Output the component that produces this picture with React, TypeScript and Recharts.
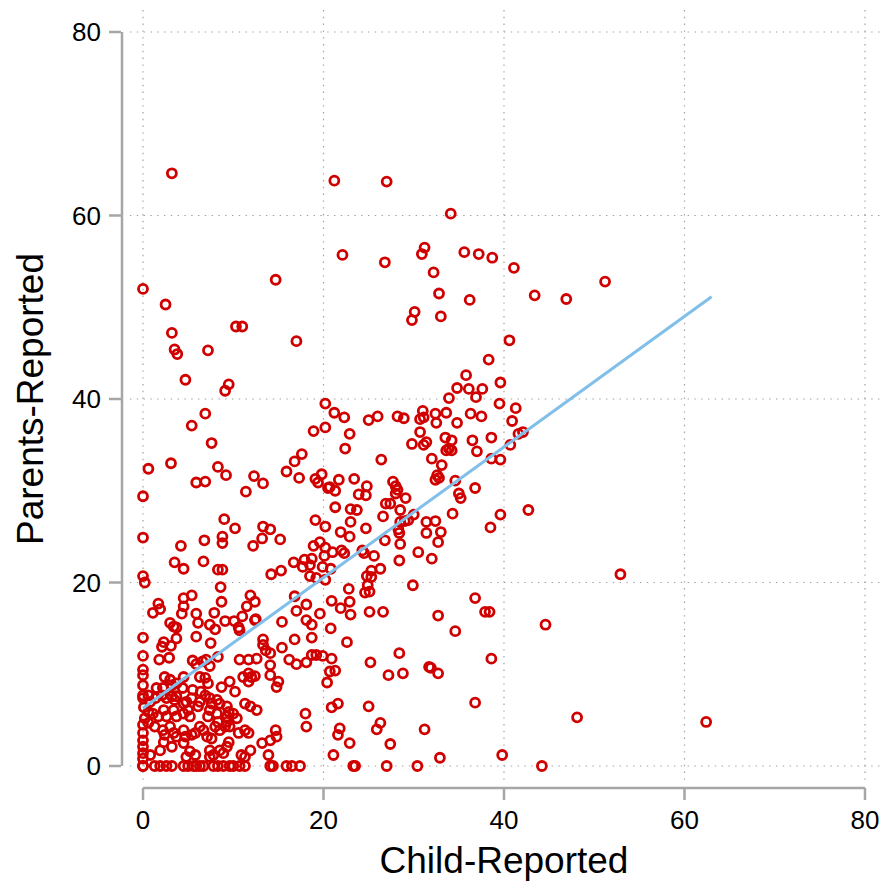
import React from "react";
import { ScatterChart, Scatter, XAxis, YAxis, CartesianGrid } from "recharts";

// [child-reported, parents-reported]
const upperCloud: [number, number][] = [
  [3.2, 64.6], [21.2, 63.8], [27.0, 63.7], [34.1, 60.2], [0, 52.0], [2.5, 50.3],
  [14.7, 53.0], [22.1, 55.7], [26.8, 54.9], [31.2, 56.5], [30.9, 55.8], [32.2, 53.8],
  [32.8, 51.5], [35.6, 56.0], [37.2, 55.8], [38.7, 55.4], [36.2, 50.8], [41.1, 54.3],
  [43.4, 51.3], [46.9, 50.9], [51.2, 52.8], [30.1, 49.5], [29.8, 48.6], [33.0, 49.0],
  [10.3, 47.9], [11.0, 47.9], [3.2, 47.2], [3.5, 45.4], [3.8, 44.9], [7.2, 45.3],
  [17.0, 46.3], [4.7, 42.1], [9.5, 41.6], [9.1, 40.9], [6.9, 38.4], [5.4, 37.1],
  [7.6, 35.2], [3.1, 33.0], [0.6, 32.4], [8.3, 32.6], [9.2, 31.7], [5.9, 30.9],
  [6.9, 31.0], [12.3, 31.6], [13.3, 30.8], [11.4, 29.9], [0, 29.4], [15.9, 32.1],
  [16.8, 33.2], [17.6, 34.0], [17.3, 31.4], [18.9, 36.5], [20.2, 36.9], [20.2, 39.5],
  [19.1, 31.3], [19.8, 31.8], [19.4, 30.9], [20.5, 30.3],
];

const rightCloud: [number, number][] = [
  [38.3, 44.3], [35.8, 42.6], [39.6, 41.8], [34.8, 41.2], [36.1, 41.1], [37.6, 41.1],
  [40.6, 46.4], [39.5, 39.5], [41.3, 39.0], [40.9, 37.6], [38.6, 35.8], [41.6, 36.2],
  [42.1, 36.4], [40.7, 35.0], [38.6, 33.5], [39.6, 33.4], [39.6, 27.4], [42.7, 27.9],
  [38.5, 26.0], [52.9, 20.9], [38.4, 16.8], [44.6, 15.4], [38.6, 11.7], [48.1, 5.3],
  [62.4, 4.8], [39.8, 1.2], [44.2, 0], [36.9, 40.2], [33.9, 40.1], [21.2, 38.5],
  [22.3, 38.0], [25.0, 37.7], [26.0, 38.1], [28.2, 38.1], [28.9, 37.9], [31.0, 38.7],
  [32.4, 38.4], [33.6, 38.5], [30.7, 37.8], [31.1, 38.0], [32.5, 37.4], [34.8, 37.4],
  [36.3, 38.4], [37.5, 38.1], [22.9, 36.2], [22.4, 34.6], [26.4, 33.4], [29.8, 35.1],
  [30.7, 36.4], [31.1, 35.0], [31.4, 35.3], [33.5, 35.8], [34.2, 35.5], [33.6, 34.4],
  [33.9, 34.6], [34.2, 34.4], [36.5, 35.5], [37.0, 34.3], [32.0, 33.5], [33.1, 32.8],
  [32.4, 31.2], [32.6, 31.7], [32.8, 31.4], [34.6, 31.1], [35.0, 29.7], [35.2, 29.2],
  [36.8, 30.3], [34.3, 27.5], [21.7, 31.2], [20.7, 30.4], [21.3, 30.0], [23.4, 31.3],
  [24.8, 30.5], [23.9, 29.6], [24.7, 29.5], [27.7, 31.0], [28.0, 30.5], [28.2, 30.1],
  [28.0, 29.7], [29.1, 29.2], [26.9, 28.6], [27.4, 28.6], [21.3, 28.2], [23.0, 28.0],
  [23.7, 27.9], [28.5, 27.9], [26.6, 27.2], [30.0, 27.4], [28.5, 26.6], [29.0, 26.7],
  [29.4, 26.8], [23.0, 26.6], [24.7, 25.9], [28.3, 25.8], [31.4, 26.6], [32.4, 26.7],
  [21.9, 25.5], [22.9, 25.0], [28.4, 25.4], [31.4, 25.4], [33.0, 25.5], [32.7, 24.4],
  [26.8, 24.6], [28.5, 24.2], [21.0, 23.3], [22.0, 23.5], [22.3, 23.2], [24.3, 23.5],
  [24.5, 23.2], [25.6, 22.9], [30.5, 23.3], [28.4, 22.4], [32.0, 22.6], [20.8, 21.5],
  [25.3, 21.3], [26.3, 21.5], [24.8, 20.7], [25.3, 20.6],
];

const lowerMiddle: [number, number][] = [
  [9.0, 26.9], [10.2, 25.9], [13.3, 26.1], [14.1, 25.8], [0, 24.9], [4.2, 24.0],
  [6.8, 24.6], [8.8, 25.0], [8.8, 24.3], [12.2, 24.0], [13.2, 24.8], [15.2, 24.7],
  [19.1, 26.8], [20.2, 26.1], [3.5, 22.2], [4.5, 21.5], [6.7, 22.3], [8.3, 21.4],
  [8.8, 21.4], [0, 20.7], [14.2, 20.9], [15.3, 21.3], [16.7, 22.2], [17.9, 22.5],
  [18.7, 22.6], [19.6, 24.4], [18.9, 24.0], [20.2, 23.8], [20.1, 22.9], [17.7, 21.7],
  [18.5, 21.9], [19.9, 21.7], [20.2, 20.3], [22.8, 19.3], [24.9, 19.7], [24.6, 18.9],
  [25.1, 19.0], [29.9, 19.7], [36.8, 18.3], [37.9, 16.8], [32.7, 16.4], [34.6, 14.7],
  [20.9, 18.0], [21.9, 17.2], [22.9, 17.9], [23.0, 16.5], [19.6, 16.6], [25.1, 16.8],
  [26.6, 16.8], [20.8, 15.0], [22.6, 13.5], [28.4, 12.3], [19.9, 12.0], [20.9, 11.7],
  [25.2, 11.3], [20.7, 10.3], [21.3, 10.4], [20.4, 9.1], [27.2, 9.9], [28.8, 10.1],
  [31.7, 10.8], [31.9, 10.7], [32.7, 10.1], [36.8, 6.9], [21.6, 6.8], [20.9, 6.4],
  [25.0, 6.5], [21.8, 4.1], [21.6, 3.4], [26.3, 4.7], [25.9, 4.0], [31.2, 4.0],
  [22.9, 2.5], [27.4, 2.4], [21.1, 1.2], [32.9, 0.9], [23.3, 0], [23.5, 0],
  [27.0, 0], [30.4, 0],
];

const lowerLeft: [number, number][] = [
  [0.2, 20.0], [8.6, 19.5], [18.5, 20.7], [19.2, 20.5], [5.4, 18.6], [4.5, 18.3],
  [4.5, 17.4], [4.3, 16.6], [1.7, 17.7], [1.9, 17.1], [1.1, 16.7], [11.9, 18.6],
  [11.5, 17.4], [12.4, 17.9], [8.7, 17.9], [11.0, 16.3], [12.5, 16.0], [5.9, 16.6],
  [6.1, 15.6], [7.9, 16.7], [16.8, 18.5], [18.1, 17.6], [17.0, 16.9], [15.4, 15.7],
  [18.1, 15.9], [18.7, 15.4], [9.1, 15.8], [10.1, 15.8], [10.6, 15.1], [10.7, 14.8],
  [7.4, 15.4], [8.0, 14.9], [3.0, 15.6], [3.4, 15.2], [3.7, 15.1], [12.4, 15.9],
  [0, 14.0], [3.7, 13.9], [5.9, 14.1], [2.3, 13.5], [2.1, 13.0], [3.1, 13.1],
  [7.5, 13.4], [13.3, 13.8], [13.3, 13.2], [13.6, 12.6], [14.1, 12.3], [15.4, 12.9],
  [18.7, 14.0], [16.8, 13.8], [18.7, 12.1], [19.2, 12.1], [0, 12.0], [2.9, 11.8],
  [1.8, 11.6], [8.3, 11.9], [10.7, 11.6], [11.7, 11.6], [12.6, 11.7], [5.5, 11.5],
  [5.9, 11.1], [6.6, 11.4], [7.0, 11.6], [7.4, 10.9], [16.2, 11.6], [17.0, 11.1],
  [18.1, 11.3], [14.1, 11.0], [14.1, 9.9], [0, 10.5], [0, 9.9], [0, 8.8],
  [2.4, 9.7], [3.0, 9.4], [4.5, 9.7], [6.3, 9.7], [6.9, 9.6], [8.7, 8.6],
  [9.6, 9.2], [7.2, 9.0], [11.1, 9.7], [11.7, 10.1], [12.0, 9.7], [12.4, 9.8],
  [11.7, 9.2], [15.0, 9.2], [14.8, 8.6], [1.5, 8.5], [2.2, 8.5], [3.2, 8.8],
  [3.7, 9.0], [4.4, 8.5], [5.5, 8.3], [6.4, 8.1], [6.9, 7.7], [10.2, 8.1],
  [0.1, 6.4], [0.6, 5.9], [1.1, 5.7], [1.7, 5.4], [0, 7.7], [0, 7.4],
  [0.6, 7.7], [0.8, 7.0], [1.4, 7.4], [2.1, 7.7], [2.6, 7.4], [3.2, 7.6],
  [3.5, 7.2], [3.7, 7.6], [4.5, 6.8], [4.8, 7.0], [5.4, 7.4], [6.1, 6.5],
  [6.3, 7.0], [7.4, 7.4], [7.6, 6.8], [8.2, 7.2], [8.5, 6.8], [7.4, 6.1],
  [7.2, 5.4], [8.2, 5.7], [9.3, 6.5], [9.5, 5.9], [9.3, 5.4], [10.0, 5.7],
  [10.4, 5.2], [11.3, 6.8], [11.9, 6.5], [12.6, 6.1], [2.3, 6.1], [2.6, 5.4],
  [3.4, 6.1], [3.7, 5.4], [4.5, 5.7], [5.0, 6.1], [5.2, 5.4], [1.3, 4.3],
  [2.2, 3.9], [2.4, 3.4], [3.0, 4.3], [3.4, 3.6], [3.7, 3.2], [4.5, 3.9],
  [4.7, 3.2], [5.4, 3.4], [5.8, 3.6], [0, 4.5], [0, 3.6], [0, 2.8],
  [0, 2.1], [0, 1.4], [0, 0.8], [0.2, 5.2], [0.6, 4.7], [6.3, 4.3],
  [6.7, 3.9], [7.1, 3.2], [7.6, 3.0], [8.0, 4.3], [8.3, 4.8], [8.5, 3.9],
  [9.1, 4.3], [9.3, 4.8], [9.6, 4.3], [10.6, 3.6], [11.3, 3.9], [11.7, 3.6],
  [9.5, 2.6], [9.3, 2.1], [8.5, 1.7], [8.9, 1.4], [7.4, 1.7], [7.8, 1.2],
  [7.4, 1.0], [2.3, 2.6], [3.2, 2.1], [4.5, 2.5], [5.2, 1.6], [4.8, 1.0],
  [5.8, 1.2], [1.9, 1.7], [0.8, 1.2], [11.9, 1.7], [13.2, 2.5], [14.1, 2.8],
  [14.7, 3.9], [14.8, 3.2], [13.9, 1.2], [18.0, 5.7], [18.1, 4.3], [10.9, 1.2],
  [11.3, 1.0],
];

// child-reported values of the points whose parents-reported value is 0
const zeroParentChild = [
  0, 0, 1.3, 1.9, 2.6, 3.2, 4.5, 5.0, 5.6, 5.9, 6.3, 6.7, 7.8, 8.3, 8.9, 9.6,
  10.0, 10.7, 11.3, 14.1, 14.4, 15.9, 16.5, 17.4,
];

// fitted line end points
const fitChild = [0, 63];
const fitParents = [6.3, 51.15];

const axisTicks = [0, 20, 40, 60, 80];

const points = [
  ...upperCloud,
  ...rightCloud,
  ...lowerMiddle,
  ...lowerLeft,
  ...zeroParentChild.map((x) => [x, 0] as [number, number]),
].map(([x, y]) => ({ x, y }));

const fitLine = fitChild.map((x, i) => ({ x, y: fitParents[i] }));

const RED = "#d00000";
const BLUE = "#80bfe9";
const AXIS_GREY = "#a6a6a6";
const FONT = "'Liberation Sans', Arial, Helvetica, sans-serif";
const TICK_FONT = 26;
const AXIS_GAP = 22; // stata-style axes sit a little away from the plot
const TICK_LEN = 12;

const Ring = (props: any) => (
  <circle
    cx={props.cx}
    cy={props.cy}
    r={4.5}
    fill="none"
    stroke={RED}
    strokeWidth={2.8}
  />
);

const NoMark = () => <g />;

const XTick = ({ x, y, payload }: any) => (
  <g>
    <line
      x1={x}
      x2={x}
      y1={y + AXIS_GAP}
      y2={y + AXIS_GAP + TICK_LEN}
      stroke={AXIS_GREY}
      strokeWidth={2.5}
    />
    <text x={x} y={y + 63} textAnchor="middle" fontSize={TICK_FONT} fill="#000">
      {payload.value}
    </text>
  </g>
);

const YTick = ({ x, y, payload }: any) => (
  <g>
    <line
      x1={x - AXIS_GAP - TICK_LEN}
      x2={x - AXIS_GAP}
      y1={y}
      y2={y}
      stroke={AXIS_GREY}
      strokeWidth={2.5}
    />
    <text x={x - 42} y={y + 9} textAnchor="end" fontSize={TICK_FONT} fill="#000">
      {payload.value}
    </text>
  </g>
);

const css = `
  .recharts-xAxis .recharts-cartesian-axis-line { transform: translateY(${AXIS_GAP}px); }
  .recharts-yAxis .recharts-cartesian-axis-line { transform: translateX(-${AXIS_GAP - 1}px); }
`;

export default function App() {
  return (
    <div style={{ position: "absolute", left: 0, top: 0 }}>
      <style>{css}</style>
      <ScatterChart
        width={884}
        height={891}
        margin={{ top: 32, right: 19, bottom: 0, left: 0 }}
        style={{ fontFamily: FONT }}
      >
        <CartesianGrid
          x={130}
          y={10}
          width={754}
          height={770}
          stroke="#a0a0a0"
          strokeWidth={1.2}
          strokeDasharray="1.4 5.4"
        />
        <XAxis
          type="number"
          dataKey="x"
          domain={[0, 80]}
          ticks={axisTicks}
          interval={0}
          height={125}
          tickSize={0}
          tickMargin={0}
          tickLine={false}
          axisLine={{ stroke: AXIS_GREY, strokeWidth: 2.5 }}
          tick={<XTick />}
          label={{
            value: "Child-Reported",
            position: "insideBottom",
            offset: 18,
            fontSize: 37,
            fill: "#000",
          }}
        />
        <YAxis
          type="number"
          dataKey="y"
          domain={[0, 80]}
          ticks={axisTicks}
          interval={0}
          width={143}
          tickSize={0}
          tickMargin={0}
          tickLine={false}
          axisLine={{ stroke: AXIS_GREY, strokeWidth: 2.5 }}
          tick={<YTick />}
          label={{
            value: "Parents-Reported",
            angle: -90,
            position: "insideLeft",
            offset: 30,
            fontSize: 37,
            fill: "#000",
            style: { textAnchor: "middle" },
          }}
        />
        <Scatter data={points} shape={Ring} isAnimationActive={false} />
        <Scatter
          data={fitLine}
          line={{ stroke: BLUE, strokeWidth: 3 }}
          shape={NoMark}
          isAnimationActive={false}
        />
      </ScatterChart>
    </div>
  );
}
